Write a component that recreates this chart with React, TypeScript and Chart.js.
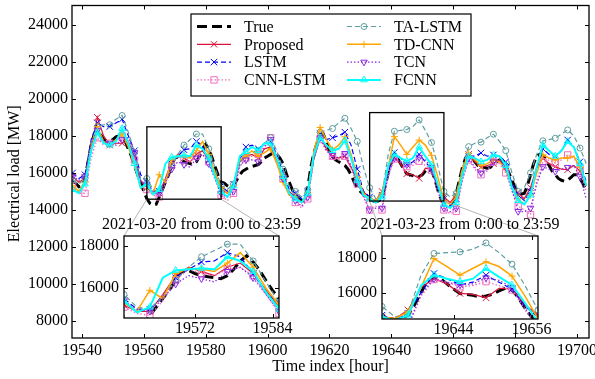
import React, { useEffect, useRef } from "react";
import { Chart, registerables } from "chart.js";
import { drawPoint } from "chart.js/helpers";

Chart.register(...registerables);

const SERIF = "'Liberation Serif', 'Times New Roman', Times, serif";

// ---------------- data ----------------
const TRUE_START_HOUR = 19537;
const TRUE_STEP_HOURS = 1;
const trueLoad = [
  15550, 15450, 15250, 15300, 15700, 16600, 17500, 18100, 18300, 18100, 17800, 17700, 17700, 17800, 17950, 18000, 17900, 17700, 17300, 16900, 16400, 15900, 15500, 15000,
  14600, 14350, 14250, 14300, 14700, 15100, 15500, 15900, 16400, 16800, 16850, 16700, 16600, 16550, 16500, 16450, 16600, 16900, 17300, 17550, 17250, 16850, 16350, 15900,
  15500, 15450, 15300, 15200, 15300, 15600, 15900, 16100, 16200, 16300, 16350, 16400, 16450, 16600, 16800, 16900, 17000, 17100, 17000, 16800, 16500, 16000, 15500, 15100,
  14800, 14600, 14500, 14550, 15200, 16300, 17100, 17600, 18000, 18100, 17700, 17200, 16900, 16700, 16600, 16500, 16400, 16200, 15900, 15500, 15200, 15000, 14850, 14750,
  14700, 14500, 14450, 14500, 14700, 15300, 16000, 16700, 16900, 16800, 16500, 16200, 15950, 15900, 15850, 15750, 15800, 15900, 16100, 16250, 16150, 15700, 15100, 14600,
  14350, 14300, 14250, 14400, 14900, 15600, 16300, 16800, 17000, 16900, 16600, 16400, 16300, 16300, 16250, 16300, 16450, 16600, 16700, 16650, 16400, 16000, 15600, 15200,
  14950, 14850, 14900, 15300, 15900, 16500, 16900, 17000, 16950, 16700, 16400, 16100, 15900, 15700, 15600, 15550, 15600, 15750, 15900, 15900, 15700, 15400, 15100,
];

const MODEL_START_HOUR = 19537;
const MODEL_STEP_HOURS = 2;
const MARK_EVERY_HOURS = 4;

const proposedLoad = [
  15800, 15500, 15700, 17300, 19000, 18000, 17500, 17600, 17600, 17700, 16900, 15600,
  15200, 14900, 14900, 15700, 16600, 17000, 16800, 16600, 17000, 17200, 16700, 15900,
  15100, 14900, 15200, 16600, 16900, 17000, 16800, 17300, 17400, 16700, 15800, 15000,
  14700, 14400, 14800, 16800, 18000, 17300, 16900, 16800, 16900, 16300, 15600, 15000,
  14600, 14500, 15000, 16300, 16800, 16500, 15950, 15900, 15700, 16250, 16200, 15300,
  14700, 14400, 14800, 16000, 17000, 16600, 16300, 16400, 16500, 16700, 16300, 15400,
  14900, 14600, 15200, 16300, 16800, 16500, 16340, 16200, 16170, 16400, 16100, 15300,
];
const lstmLoad = [
  16000, 15700, 15900, 17800, 18700, 18500, 18500, 18700, 18900, 18000, 17200, 15900,
  15500, 15000, 15000, 15600, 16500, 16900, 17250, 17300, 17700, 17500, 16700, 15800,
  15300, 15000, 15400, 16700, 17400, 17500, 17300, 17600, 17700, 17000, 16000, 15100,
  14900, 14600, 15000, 16900, 18100, 17800, 17900, 18000, 18200, 17500, 16200, 15000,
  14700, 14400, 14800, 16000, 17100, 16800, 16450, 16600, 17000, 16600, 16200, 15200,
  14600, 14200, 14600, 15800, 16900, 16900, 17080, 16900, 16970, 16900, 16600, 15400,
  14800, 14500, 15000, 16200, 17300, 17000, 16900, 17200, 17780, 17400, 16600, 15500,
];
const cnnLstmLoad = [
  15300, 14900, 14900, 16800, 17900, 17500, 17600, 17700, 18000, 17800, 16700, 15300,
  15100, 14800, 14700, 15400, 16400, 16900, 16700, 16600, 16900, 17000, 16600, 15700,
  14800, 14500, 14900, 16300, 16800, 16900, 17000, 17500, 17900, 17000, 15700, 14800,
  14400, 14100, 14600, 16700, 17800, 17200, 16900, 16700, 16900, 16200, 15400, 14800,
  14000, 14200, 14000, 15800, 16750, 16600, 16340, 16400, 16630, 16400, 16150, 15000,
  14000, 13800, 13920, 15600, 16700, 16200, 15900, 16100, 16600, 16500, 16000, 15000,
  14200, 14000, 13740, 15600, 16600, 16700, 16530, 16700, 16970, 16800, 16200, 15000,
];
const taLstmLoad = [
  15600, 15400, 15700, 17600, 18500, 18600, 18600, 18900, 19100, 18200, 17100, 15600,
  15700, 15100, 15000, 15600, 16400, 17000, 17500, 17800, 18100, 18100, 17300, 16300,
  15300, 15100, 15400, 16500, 17000, 17100, 17200, 17600, 17900, 17200, 16200, 15300,
  15000, 14700, 15100, 16900, 18200, 18300, 18400, 18700, 18950, 18400, 17700, 16300,
  15200, 14600, 14800, 17000, 18250, 18300, 18340, 18500, 18860, 18300, 17640, 16400,
  15000, 14700, 14900, 16300, 17420, 17600, 17660, 17900, 18090, 17700, 17200, 16000,
  15000, 15200, 16000, 17000, 17730, 17800, 17870, 18100, 18320, 18000, 17340, 16500,
];
const tdCnnLoad = [
  15300, 15000, 15500, 17400, 18500, 17700, 17500, 17800, 18100, 17400, 16400, 15200,
  15300, 14900, 15900, 15500, 16700, 16950, 16900, 16800, 17200, 17700, 17000, 16000,
  15200, 14900, 15300, 16700, 16900, 17200, 16900, 17100, 17300, 16500, 15500, 14800,
  14700, 14400, 14900, 17200, 18450, 17800, 17250, 17500, 17950, 17000, 15800, 14900,
  14600, 14500, 14900, 16300, 17960, 17500, 17000, 17400, 17770, 17500, 16950, 15800,
  14500, 14300, 14700, 16200, 17070, 16700, 16400, 16500, 16700, 16600, 16200, 15200,
  14600, 14300, 14800, 16000, 16970, 16800, 16700, 16800, 16800, 16900, 16300, 15400,
];
const tcnLoad = [
  15800, 15600, 15800, 17600, 18300, 17700, 17600, 17500, 17800, 17900, 17100, 15500,
  15400, 15000, 14900, 15500, 16200, 16600, 16450, 16300, 16800, 17000, 16500, 15700,
  14900, 14700, 15000, 16400, 16700, 16700, 16600, 17400, 17800, 16900, 15700, 14900,
  14500, 14200, 14700, 16800, 17900, 17200, 16950, 16800, 17050, 16400, 15500, 14700,
  14000, 14100, 14100, 15900, 16800, 16600, 16440, 16500, 16850, 16700, 16300, 15100,
  14100, 13900, 14100, 15700, 16800, 16300, 16000, 16200, 16600, 16700, 16300, 15100,
  13920, 13900, 14100, 15400, 16340, 16200, 16080, 16200, 16300, 16400, 15800, 14600,
];
const fcnnLoad = [
  15100, 14900, 15400, 17200, 18200, 17600, 17500, 17700, 18400, 17600, 16500, 15200,
  15400, 14850, 15100, 16500, 16850, 16900, 16950, 16900, 17500, 17300, 16800, 15800,
  15000, 14700, 15300, 16900, 17150, 17400, 17200, 17600, 17600, 16800, 15800, 14900,
  14600, 14400, 14900, 17000, 17900, 17500, 17200, 17300, 17750, 16800, 15600, 14800,
  14600, 14400, 14700, 16400, 17010, 16800, 16630, 16800, 17390, 16900, 16440, 15400,
  14300, 14100, 14400, 15900, 16900, 16800, 16600, 16700, 16970, 16900, 16400, 15200,
  14500, 14300, 14800, 16300, 17510, 17200, 16900, 17200, 17700, 17400, 16500, 15300,
];

const mainXTicks = [19540, 19560, 19580, 19600, 19620, 19640, 19660, 19680, 19700];
const mainYTicks = [8000, 10000, 12000, 14000, 16000, 18000, 20000, 22000, 24000];
const inset1XTicks = [19572, 19584];
const inset2XTicks = [19644, 19656];
const insetYTicks = [16000, 18000];

const inset1Title = "2021-03-20 from 0:00 to 23:59";
const inset2Title = "2021-03-23 from 0:00 to 23:59";
const xAxisTitle = "Time index [hour]";
const yAxisTitle = "Electrical load [MW]";

// view ranges
const MAIN_X_RANGE = [19536.8, 19703.9];
const MAIN_Y_RANGE = [7083, 25040];
const INSET1_X_RANGE = [19561, 19585];
const INSET1_Y_RANGE = [14580, 18490];
const INSET2_X_RANGE = [19633, 19657];
const INSET2_Y_RANGE = [14480, 19257];

// ---------------- layout / styles ----------------
const W = 595;
const H = 379;
const MAIN_AREA = { left: 72, top: 5, right: 589, bottom: 338 };
const INSET1_AREA = { left: 124, top: 236, right: 279, bottom: 318 };
const INSET2_AREA = { left: 382, top: 236, right: 538, bottom: 319 };
const TICK_LEN = 4;

const SERIES: any[] = [
  { label: "True", values: trueLoad, start: TRUE_START_HOUR, step: TRUE_STEP_HOURS, color: "#000000", width: 3, dash: [10, 5], style: null, radius: 0 },
  { label: "Proposed", values: proposedLoad, start: MODEL_START_HOUR, step: MODEL_STEP_HOURS, color: "#DC143C", width: 1.2, dash: [], style: "crossRot", radius: 4.5 },
  { label: "LSTM", values: lstmLoad, start: MODEL_START_HOUR, step: MODEL_STEP_HOURS, color: "#0000FF", width: 1.2, dash: [5, 3], style: "crossRot", radius: 4.5 },
  { label: "CNN-LSTM", values: cnnLstmLoad, start: MODEL_START_HOUR, step: MODEL_STEP_HOURS, color: "#F06EC0", width: 1.3, dash: [1.5, 2], style: "rect", radius: 4.5 },
  { label: "TA-LSTM", values: taLstmLoad, start: MODEL_START_HOUR, step: MODEL_STEP_HOURS, color: "#5F9EA0", width: 1.2, dash: [5, 3], style: "circle", radius: 3 },
  { label: "TD-CNN", values: tdCnnLoad, start: MODEL_START_HOUR, step: MODEL_STEP_HOURS, color: "#FFA500", width: 1.5, dash: [], style: "cross", radius: 3.5 },
  { label: "TCN", values: tcnLoad, start: MODEL_START_HOUR, step: MODEL_STEP_HOURS, color: "#8A2BE2", width: 1.3, dash: [1.5, 2], style: "triangle", rotation: 180, radius: 3.8 },
  { label: "FCNN", values: fcnnLoad, start: MODEL_START_HOUR, step: MODEL_STEP_HOURS, color: "#00FFFF", width: 2, dash: [], style: "triangle", rotation: 0, radius: 3.8 },
];

Chart.defaults.font.family = SERIF;
Chart.defaults.color = "#000";

function makeDatasets() {
  return SERIES.map((s, i) => ({
    label: s.label,
    data: s.values.map((v: number, k: number) => ({ x: s.start + k * s.step, y: v })),
    borderColor: s.color,
    borderWidth: s.width,
    borderDash: s.dash,
    pointStyle: s.style || "circle",
    pointRadius: s.style
      ? (ctx: any) => {
          const hour = s.start + ctx.dataIndex * s.step;
          return (hour - s.start) % MARK_EVERY_HOURS === 0 ? s.radius : 0;
        }
      : 0,
    pointHoverRadius: 0,
    pointRotation: s.rotation || 0,
    pointBorderColor: s.color,
    pointBackgroundColor: "rgba(0,0,0,0)",
    pointBorderWidth: 1,
    tension: 0,
    fill: false,
    order: SERIES.length - i,
  }));
}

function zeroPad(s: any) {
  s.paddingLeft = 0;
  s.paddingRight = 0;
  s.paddingTop = 0;
  s.paddingBottom = 0;
}

function makeOptions(cfg: any) {
  return {
    responsive: false,
    animation: false,
    devicePixelRatio: 1,
    events: [],
    layout: { padding: cfg.padding },
    plugins: { legend: { display: false }, tooltip: { enabled: false }, title: { display: false } },
    scales: {
      x: {
        type: "linear",
        min: cfg.xRange[0],
        max: cfg.xRange[1],
        afterBuildTicks: (s: any) => {
          s.ticks = cfg.xTicks.map((v: number) => ({ value: v }));
        },
        afterFit: (s: any) => {
          s.height = cfg.xAxisH;
          zeroPad(s);
        },
        grid: { display: false, drawTicks: false },
        border: { display: false },
        ticks: {
          autoSkip: false,
          maxRotation: 0,
          minRotation: 0,
          padding: cfg.xTickPad,
          color: "#000",
          font: { family: SERIF, size: 16 },
          callback: (v: any) => String(v),
        },
      },
      y: {
        type: "linear",
        min: cfg.yRange[0],
        max: cfg.yRange[1],
        afterBuildTicks: (s: any) => {
          s.ticks = cfg.yTicks.map((v: number) => ({ value: v }));
        },
        afterFit: (s: any) => {
          s.width = cfg.yAxisW;
          zeroPad(s);
        },
        grid: { display: false, drawTicks: false },
        border: { display: false },
        ticks: {
          autoSkip: false,
          padding: cfg.yTickPad,
          color: "#000",
          font: { family: SERIF, size: 16 },
          callback: (v: any) => String(v),
        },
      },
    },
  };
}

function drawFrameAndTicks(chart: any, xTicks: number[], yTicks: number[]) {
  const { ctx, chartArea: a } = chart;
  const sx = chart.scales.x;
  const sy = chart.scales.y;
  ctx.save();
  ctx.setLineDash([]);
  ctx.strokeStyle = "#000";
  ctx.lineWidth = 1;
  ctx.beginPath();
  xTicks.forEach((v) => {
    const p = Math.round(sx.getPixelForValue(v)) + 0.5;
    ctx.moveTo(p, a.bottom);
    ctx.lineTo(p, a.bottom - TICK_LEN);
    ctx.moveTo(p, a.top);
    ctx.lineTo(p, a.top + TICK_LEN);
  });
  yTicks.forEach((v) => {
    const p = Math.round(sy.getPixelForValue(v)) + 0.5;
    ctx.moveTo(a.left, p);
    ctx.lineTo(a.left + TICK_LEN, p);
    ctx.moveTo(a.right, p);
    ctx.lineTo(a.right - TICK_LEN, p);
  });
  ctx.stroke();
  ctx.lineWidth = 1.3;
  ctx.strokeRect(a.left, a.top, a.right - a.left, a.bottom - a.top);
  ctx.restore();
}

const LEGEND = {
  left: 191,
  top: 14,
  right: 471,
  bottom: 96,
  colX: [197, 347],
  handleLen: 34,
  textGap: 13,
  rowY0: 26.5,
  rowStep: 17.8,
  rows: 4,
};

function drawLegend(ctx: any) {
  ctx.save();
  ctx.fillStyle = "#fff";
  ctx.fillRect(LEGEND.left, LEGEND.top, LEGEND.right - LEGEND.left, LEGEND.bottom - LEGEND.top);
  ctx.setLineDash([]);
  ctx.strokeStyle = "#000";
  ctx.lineWidth = 1.2;
  ctx.strokeRect(LEGEND.left, LEGEND.top, LEGEND.right - LEGEND.left, LEGEND.bottom - LEGEND.top);
  SERIES.forEach((s, i) => {
    const col = Math.floor(i / LEGEND.rows);
    const row = i % LEGEND.rows;
    const x0 = LEGEND.colX[col];
    const y = LEGEND.rowY0 + row * LEGEND.rowStep;
    ctx.strokeStyle = s.color;
    ctx.lineWidth = s.width;
    ctx.setLineDash(s.dash);
    ctx.beginPath();
    ctx.moveTo(x0, y);
    ctx.lineTo(x0 + LEGEND.handleLen, y);
    ctx.stroke();
    ctx.setLineDash([]);
    if (s.style) {
      ctx.lineWidth = 1;
      ctx.fillStyle = "rgba(0,0,0,0)";
      drawPoint(ctx, { pointStyle: s.style, rotation: s.rotation || 0, radius: s.radius, borderWidth: 1 } as any, x0 + LEGEND.handleLen / 2, y);
    }
    ctx.fillStyle = "#000";
    ctx.font = `16px ${SERIF}`;
    ctx.textAlign = "left";
    ctx.textBaseline = "middle";
    ctx.fillText(s.label, x0 + LEGEND.handleLen + LEGEND.textGap, y + 1);
  });
  ctx.restore();
}

const mainDecor = {
  id: "mainDecor",
  afterDatasetsDraw(chart: any) {
    const { ctx } = chart;
    const sx = chart.scales.x;
    const sy = chart.scales.y;
    const zooms: any[] = [
      [INSET1_X_RANGE, INSET1_Y_RANGE, INSET1_AREA],
      [INSET2_X_RANGE, INSET2_Y_RANGE, INSET2_AREA],
    ];
    ctx.save();
    zooms.forEach(([xr, yr, area]) => {
      const l = sx.getPixelForValue(xr[0]);
      const r = sx.getPixelForValue(xr[1]);
      const t = sy.getPixelForValue(yr[1]);
      const b = sy.getPixelForValue(yr[0]);
      ctx.setLineDash([]);
      ctx.strokeStyle = "#b5b5b5";
      ctx.lineWidth = 1;
      ctx.beginPath();
      ctx.moveTo(l, b);
      ctx.lineTo(area.left, area.top);
      ctx.moveTo(r, b);
      ctx.lineTo(area.right, area.top);
      ctx.stroke();
      ctx.strokeStyle = "#000";
      ctx.lineWidth = 1.3;
      ctx.strokeRect(l, t, r - l, b - t);
    });
    ctx.restore();
    drawFrameAndTicks(chart, mainXTicks, mainYTicks);
    drawLegend(ctx);
    ctx.save();
    ctx.fillStyle = "#000";
    ctx.font = `16px ${SERIF}`;
    ctx.textAlign = "center";
    ctx.textBaseline = "middle";
    const a = chart.chartArea;
    ctx.fillText(xAxisTitle, (a.left + a.right) / 2, 367);
    ctx.translate(15, (a.top + a.bottom) / 2 + 2);
    ctx.rotate(-Math.PI / 2);
    ctx.fillText(yAxisTitle, 0, 0);
    ctx.restore();
  },
};

function insetDecor(id: string, title: string, xTicks: number[], yTicks: number[]) {
  return {
    id,
    beforeDatasetsDraw(chart: any) {
      const { ctx, chartArea: a } = chart;
      ctx.save();
      ctx.fillStyle = "#fff";
      ctx.fillRect(a.left, a.top, a.right - a.left, a.bottom - a.top);
      ctx.restore();
    },
    afterDatasetsDraw(chart: any) {
      const { ctx, chartArea: a } = chart;
      drawFrameAndTicks(chart, xTicks, yTicks);
      ctx.save();
      ctx.fillStyle = "#000";
      ctx.font = `16px ${SERIF}`;
      ctx.textAlign = "center";
      ctx.textBaseline = "middle";
      ctx.fillText(title, (a.left + a.right) / 2, a.top - 11);
      ctx.restore();
    },
  };
}

export default function App() {
  const mainRef = useRef<HTMLCanvasElement>(null);
  const in1Ref = useRef<HTMLCanvasElement>(null);
  const in2Ref = useRef<HTMLCanvasElement>(null);

  useEffect(() => {
    document.body.style.margin = "0";
    const charts: Chart[] = [];

    charts.push(
      new Chart(mainRef.current as HTMLCanvasElement, {
        type: "line",
        data: { datasets: makeDatasets() as any },
        options: makeOptions({
          padding: { left: 0, top: MAIN_AREA.top, right: W - MAIN_AREA.right, bottom: 0 },
          xRange: MAIN_X_RANGE,
          yRange: MAIN_Y_RANGE,
          xTicks: mainXTicks,
          yTicks: mainYTicks,
          xAxisH: H - MAIN_AREA.bottom,
          yAxisW: MAIN_AREA.left,
          xTickPad: 3,
          yTickPad: 4,
        }) as any,
        plugins: [mainDecor],
      })
    );

    const insets: any[] = [
      [in1Ref, INSET1_AREA, INSET1_X_RANGE, INSET1_Y_RANGE, inset1XTicks, inset1Title, "inset1"],
      [in2Ref, INSET2_AREA, INSET2_X_RANGE, INSET2_Y_RANGE, inset2XTicks, inset2Title, "inset2"],
    ];
    insets.forEach(([ref, area, xr, yr, xt, title, id]) => {
      const yW = 50;
      const xH = 30;
      charts.push(
        new Chart(ref.current as HTMLCanvasElement, {
          type: "line",
          data: { datasets: makeDatasets() as any },
          options: makeOptions({
            padding: { left: area.left - yW, top: area.top, right: W - area.right, bottom: H - area.bottom - xH },
            xRange: xr,
            yRange: yr,
            xTicks: xt,
            yTicks: insetYTicks,
            xAxisH: xH,
            yAxisW: yW,
            xTickPad: 1.5,
            yTickPad: 5,
          }) as any,
          plugins: [insetDecor(id, title, xt, insetYTicks)],
        })
      );
    });

    return () => charts.forEach((c) => c.destroy());
  }, []);

  const cs: React.CSSProperties = { position: "absolute", left: 0, top: 0 };
  return (
    <div style={{ position: "fixed", left: 0, top: 0, width: W, height: H, background: "#fff" }}>
      <canvas ref={mainRef} width={W} height={H} style={cs} />
      <canvas ref={in1Ref} width={W} height={H} style={cs} />
      <canvas ref={in2Ref} width={W} height={H} style={cs} />
    </div>
  );
}
